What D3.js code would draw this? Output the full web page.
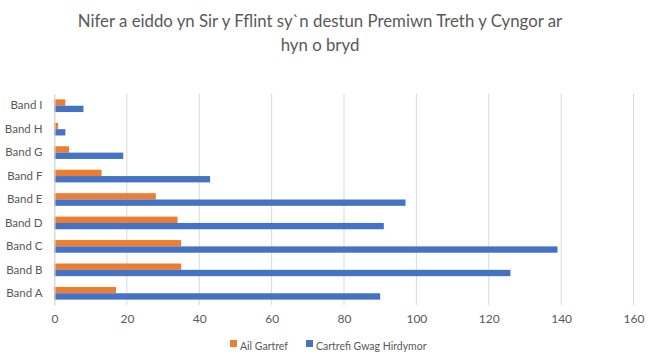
<!DOCTYPE html>
<html>
<head>
<meta charset="utf-8">
<script src="https://cdn.jsdelivr.net/npm/d3@7"></script>
<style>
  body { margin: 0; background: #fff; }
  text { font-family: Lato, "Liberation Sans", sans-serif; fill: #595959; }
</style>
</head>
<body>
<div id="chart"></div>
<script>
// data
const bands = ["Band A", "Band B", "Band C", "Band D", "Band E", "Band F", "Band G", "Band H", "Band I"];
const seriesNames = ["Ail Gartref", "Cartrefi Gwag Hirdymor"];
const ailGartref = [17, 35, 35, 34, 28, 13, 4, 1, 3];
const cartrefiGwag = [90, 126, 139, 91, 97, 43, 19, 3, 8];
const xTicks = [0, 20, 40, 60, 80, 100, 120, 140, 160];
const titleLines = ["Nifer a eiddo yn Sir y Fflint sy`n destun Premiwn Treth y Cyngor ar", "hyn o bryd"];
const colors = ["#ed7d31", "#4472c4"];

const W = 654, H = 363;
const margin = { top: 94, right: 20.5, bottom: 58, left: 54.5 };
const width = W - margin.left - margin.right;
const height = H - margin.top - margin.bottom;

const svg = d3.select("#chart").append("svg")
  .attr("width", W)
  .attr("height", H);

// title
svg.append("g").selectAll("text")
  .data(titleLines)
  .join("text")
  .attr("x", 320)
  .attr("y", (d, i) => 27 + i * 24)
  .attr("text-anchor", "middle")
  .style("font-size", "16.8px")
  .text(d => d);

const g = svg.append("g")
  .attr("transform", `translate(${margin.left},${margin.top})`);

// scales
const x = d3.scaleLinear().domain([0, 160]).range([0, width]);
const y = d3.scaleBand().domain(bands.slice().reverse()).range([0, height]).paddingInner(0.46).paddingOuter(0.23);
const ySub = d3.scaleBand().domain(seriesNames).range([0, y.bandwidth()]);

// gridlines
g.selectAll("line.grid")
  .data(xTicks)
  .join("line")
  .attr("class", "grid")
  .attr("x1", d => x(d))
  .attr("x2", d => x(d))
  .attr("y1", 0)
  .attr("y2", height)
  .attr("stroke", "#d9d9d9")
  .attr("stroke-width", 1);

// bars
const rows = bands.map((b, i) => ({ band: b, vals: [ailGartref[i], cartrefiGwag[i]] }));
const groups = g.selectAll("g.band")
  .data(rows)
  .join("g")
  .attr("class", "band")
  .attr("transform", d => `translate(0,${y(d.band)})`);

groups.selectAll("rect")
  .data(d => d.vals.map((v, i) => ({ name: seriesNames[i], v, i })))
  .join("rect")
  .attr("x", 0)
  .attr("y", d => ySub(d.name))
  .attr("width", d => x(d.v))
  .attr("height", ySub.bandwidth())
  .attr("fill", d => colors[d.i]);

// axes
const xAxis = g.append("g")
  .attr("transform", `translate(0,${height})`)
  .call(d3.axisBottom(x).tickValues(xTicks).tickSize(0).tickPadding(9));
xAxis.select(".domain").remove();
xAxis.selectAll("text").style("font-size", "12px").attr("fill", "#595959");

const yAxis = g.append("g")
  .call(d3.axisLeft(y).tickSize(0).tickPadding(12));
yAxis.select(".domain").attr("stroke", "#d9d9d9");
yAxis.selectAll("text").style("font-size", "11.5px").attr("fill", "#595959");

// legend
const legendX = [230, 306];
const legend = svg.append("g").attr("transform", "translate(0,346)");
legend.selectAll("g")
  .data(seriesNames)
  .join("g")
  .attr("transform", (d, i) => `translate(${legendX[i]},0)`)
  .each(function (d, i) {
    const lg = d3.select(this);
    lg.append("rect")
      .attr("x", 0)
      .attr("y", -6)
      .attr("width", 7)
      .attr("height", 7)
      .attr("fill", colors[i]);
    lg.append("text")
      .attr("x", 10)
      .attr("y", 0)
      .attr("dy", "0.35em")
      .style("font-size", "10.5px")
      .text(d);
  });
</script>
</body>
</html>
